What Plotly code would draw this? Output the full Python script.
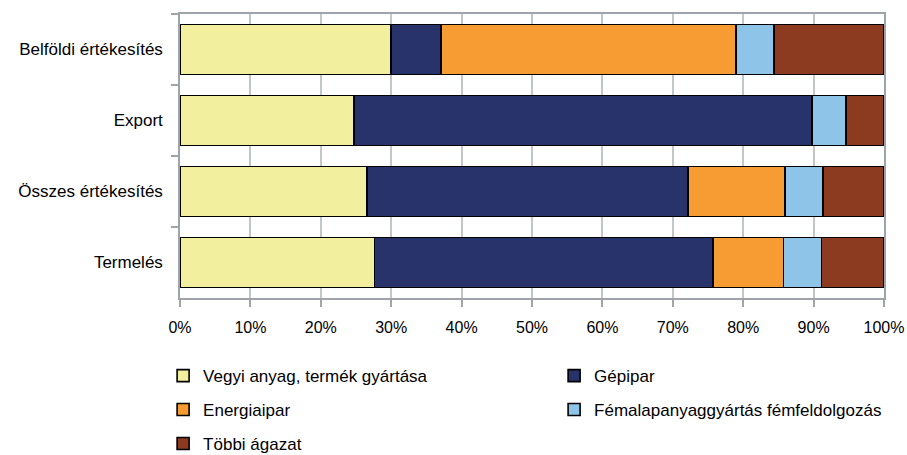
import plotly.graph_objects as go

categories = ["Belföldi értékesítés", "Export", "Összes értékesítés", "Termelés"]
series_names = ["Vegyi anyag, termék gyártása", "Gépipar", "Energiaipar",
                "Fémalapanyaggyártás fémfeldolgozás", "Többi ágazat"]
vegyi = [30.0, 24.7, 26.6, 27.6]
gepipar = [7.1, 65.1, 45.6, 48.1]
energia = [41.9, 0.0, 13.7, 10.0]
femalap = [5.4, 4.8, 5.4, 5.4]
tobbi = [15.6, 5.4, 8.7, 8.9]
x_ticks = [0, 10, 20, 30, 40, 50, 60, 70, 80, 90, 100]
x_tick_labels = ["0%", "10%", "20%", "30%", "40%", "50%", "60%", "70%", "80%", "90%", "100%"]

colors = ["#F2F09E", "#27336A", "#F79C33", "#8EC4E8", "#8C3A20"]
values = [vegyi, gepipar, energia, femalap, tobbi]
legend_ids = ["legend", "legend", "legend2", "legend2", "legend3"]

FONT = "Liberation Sans, Arial, sans-serif"

fig = go.Figure()
for name, vals, col, lg in zip(series_names, values, colors, legend_ids):
    fig.add_trace(go.Bar(
        y=categories, x=vals, name=name, orientation="h",
        marker=dict(color=col, line=dict(color="#000000", width=1.6)),
        legend=lg, hoverinfo="x+name",
    ))

leg_common = dict(orientation="h", x=-0.024, xanchor="left", yanchor="middle",
                  font=dict(family=FONT, size=17, color="#000000"),
                  bgcolor="rgba(0,0,0,0)", entrywidth=346, entrywidthmode="pixels",
                  traceorder="normal")

fig.update_layout(
    width=907, height=455,
    margin=dict(l=180, r=23, t=14, b=157, autoexpand=False),
    barmode="stack", bargap=0.3,
    plot_bgcolor="#FFFFFF", paper_bgcolor="#FFFFFF",
    font=dict(family=FONT, size=17, color="#000000"),
    legend=dict(y=-0.275, **leg_common),
    legend2=dict(y=-0.394, **leg_common),
    legend3=dict(y=-0.514, **leg_common),
    xaxis=dict(range=[0, 100], tickvals=x_ticks, ticktext=x_tick_labels,
               showgrid=True, gridcolor="#C3C6C9", gridwidth=1.5,
               showline=True, linecolor="#A0A4A8", linewidth=1.5, mirror=True,
               ticks="outside", ticklen=7, tickcolor="#A0A4A8", tickwidth=1.5,
               zeroline=False, fixedrange=True, ticklabelstandoff=7,
               ticklabeloverflow="allow",
               tickfont=dict(family=FONT, size=16, color="#000000")),
    yaxis=dict(autorange="reversed", type="category", tickson="boundaries",
               showgrid=False, showline=True, linecolor="#A0A4A8", linewidth=1.5,
               mirror=True, ticks="outside", ticklen=7, tickcolor="#A0A4A8",
               tickwidth=1.5, ticklabelstandoff=12,
               tickfont=dict(family=FONT, size=17, color="#000000")),
)

fig.write_html(
    "out.html",
    config={"displayModeBar": False},
    post_script="document.body.style.margin='0';document.body.style.overflow='hidden';",
)
